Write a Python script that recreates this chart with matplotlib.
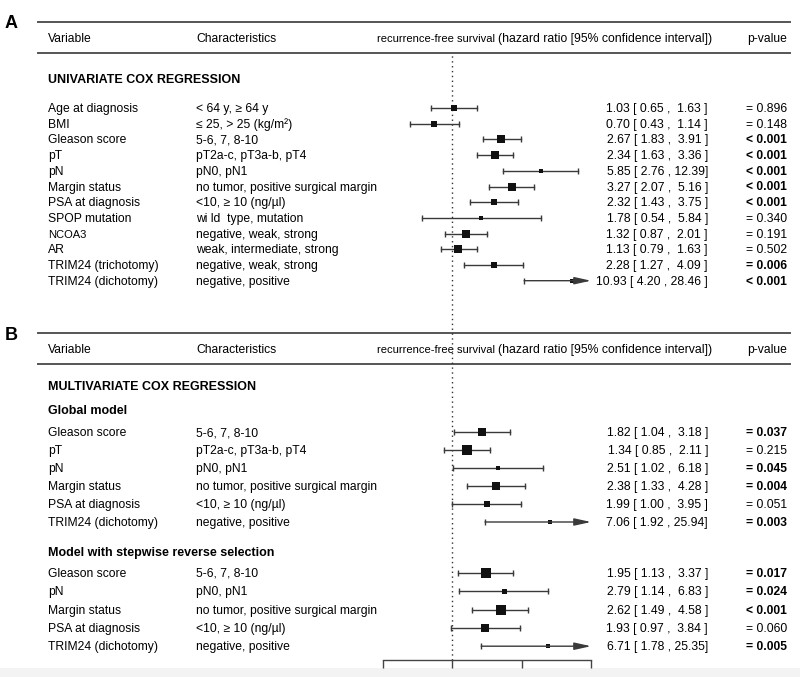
import numpy as np
import matplotlib
matplotlib.use("Agg")
import matplotlib.pyplot as plt

plt.rcParams['font.family'] = ['Liberation Sans', 'DejaVu Sans']

# univariate
uni_var = ["Age at diagnosis", "BMI", "Gleason score", "pT", "pN", "Margin status",
           "PSA at diagnosis", "SPOP mutation", "NCOA3", "AR",
           "TRIM24 (trichotomy)", "TRIM24 (dichotomy)"]
uni_char = ["< 64 y, \u2265 64 y", "\u2264 25, > 25 (kg/m\u00b2)", "5-6, 7, 8-10",
            "pT2a-c, pT3a-b, pT4", "pN0, pN1", "no tumor, positive surgical margin",
            "<10, \u2265 10 (ng/\u00b5l)", "wi ld  type, mutation", "negative, weak, strong",
            "weak, intermediate, strong", "negative, weak, strong", "negative, positive"]
uni_hr = [1.03, 0.70, 2.67, 2.34, 5.85, 3.27, 2.32, 1.78, 1.32, 1.13, 2.28, 10.93]
uni_lo = [0.65, 0.43, 1.83, 1.63, 2.76, 2.07, 1.43, 0.54, 0.87, 0.79, 1.27, 4.20]
uni_hi = [1.63, 1.14, 3.91, 3.36, 12.39, 5.16, 3.75, 5.84, 2.01, 1.63, 4.09, 28.46]
uni_p = ["= 0.896", "= 0.148", "< 0.001", "< 0.001", "< 0.001", "< 0.001",
         "< 0.001", "= 0.340", "= 0.191", "= 0.502", "= 0.006", "< 0.001"]
uni_w = [5.5, 5, 6.5, 6.5, 3.5, 6.5, 5.5, 3, 7, 8, 5.5, 3]

# multivariate, global model
glob_var = ["Gleason score", "pT", "pN", "Margin status", "PSA at diagnosis", "TRIM24 (dichotomy)"]
glob_char = ["5-6, 7, 8-10", "pT2a-c, pT3a-b, pT4", "pN0, pN1",
             "no tumor, positive surgical margin", "<10, \u2265 10 (ng/\u00b5l)", "negative, positive"]
glob_hr = [1.82, 1.34, 2.51, 2.38, 1.99, 7.06]
glob_lo = [1.04, 0.85, 1.02, 1.33, 1.00, 1.92]
glob_hi = [3.18, 2.11, 6.18, 4.28, 3.95, 25.94]
glob_p = ["= 0.037", "= 0.215", "= 0.045", "= 0.004", "= 0.051", "= 0.003"]
glob_w = [7, 9, 4, 7, 5.5, 3]

# multivariate, stepwise reverse selection
step_var = ["Gleason score", "pN", "Margin status", "PSA at diagnosis", "TRIM24 (dichotomy)"]
step_char = ["5-6, 7, 8-10", "pN0, pN1", "no tumor, positive surgical margin",
             "<10, \u2265 10 (ng/\u00b5l)", "negative, positive"]
step_hr = [1.95, 2.79, 2.62, 1.93, 6.71]
step_lo = [1.13, 1.14, 1.49, 0.97, 1.78]
step_hi = [3.37, 6.83, 4.58, 3.84, 25.35]
step_p = ["= 0.017", "= 0.024", "< 0.001", "= 0.060", "= 0.005"]
step_w = [9, 4.5, 9, 6.5, 3]

ticks = [0.25, 1, 4, 16]

W, H = 800, 677
fig = plt.figure(figsize=(8, 6.77), dpi=100)
bg = fig.add_axes([0, 0, 1, 1])
bg.set_xlim(0, W)
bg.set_ylim(H, 0)
bg.axis('off')
bg.axhspan(668, H, color='#f3f3f3', lw=0)

x0, x1, y0, y1 = 383, 591, 55, 660
ax = fig.add_axes([x0 / W, 1 - y1 / H, (x1 - x0) / W, (y1 - y0) / H])
ax.patch.set_alpha(0)
ax.set_xscale('log', base=2)
ax.set_xlim(ticks[0], ticks[-1])
ax.set_ylim(y1, y0)
for s in ['top', 'left', 'right']:
    ax.spines[s].set_visible(False)
ax.spines['bottom'].set_color('#444444')
ax.spines['bottom'].set_linewidth(1.0)
ax.set_xticks(ticks)
ax.set_xticklabels([])
ax.xaxis.set_minor_locator(plt.NullLocator())
ax.tick_params(axis='x', direction='out', length=6, width=1.0, color='#444444')
ax.set_yticks([])
ax.axvline(1, color='#333333', lw=1.0, ls=(0, (1, 2.5)))

fs = 8.7
lc = '#3a3a3a'
dy = 4  # baseline offset below row centre


def txt(x, y, s, **kw):
    kw.setdefault('fontsize', fs)
    bg.text(x, y + dy, s, va='baseline', **kw)


def header(top, label):
    bg.text(11, top + 2, label, fontsize=13, fontweight='bold', ha='center', va='center')
    bg.plot([38, 790], [top, top], color='#555555', lw=1.4)
    bg.plot([38, 790], [top + 31, top + 31], color='#555555', lw=1.4)
    ym = top + 16
    txt(48, ym, "Variable")
    txt(196, ym, "Characteristics")
    txt(495, ym, "recurrence-free survival", fontsize=8.0, ha='right')
    txt(498, ym, "(hazard ratio [95% confidence interval])", fontsize=8.8)
    txt(787, ym, "p-value", ha='right')


def block(ys, var, char, hr, lo, hi, p, w):
    for i, y in enumerate(ys):
        txt(48, y, var[i], fontsize=fs if var[i] != "NCOA3" else 8.0)
        txt(196, y, char[i])
        sep = " , " if hi[i] >= 10 else " ,  "
        end = "]" if (hi[i] >= 10 and hr[i] < 10) else " ]"
        txt(708, y, f"{hr[i]:.2f} [ {lo[i]:.2f}{sep}{hi[i]:.2f}{end}", ha='right')
        bold = p[i].startswith('<') or float(p[i][2:]) < 0.05
        txt(787, y, p[i], ha='right', fontweight='bold' if bold else 'normal')
        if hi[i] > ticks[-1]:
            ax.annotate('', xy=(ticks[-1], y), xytext=(lo[i], y),
                        arrowprops=dict(arrowstyle='-|>,head_length=1.0,head_width=0.22',
                                        color=lc, lw=1.0, shrinkA=0, shrinkB=0,
                                        mutation_scale=10))
            ax.plot([lo[i]], [y], marker='|', ms=5, color=lc, mew=1.0)
        else:
            ax.plot([lo[i], hi[i]], [y, y], color=lc, lw=1.0)
            ax.plot([lo[i], hi[i]], [y, y], ls='none', marker='|', ms=5, color=lc, mew=1.0)
        ax.plot([hr[i]], [y], marker='s', ms=w[i] * 0.8, color='#111111', mew=0)


header(22, "A")
txt(48, 79, "UNIVARIATE COX REGRESSION", fontsize=fs + 0.3, fontweight='bold')
block(108 + 15.7 * np.arange(len(uni_var)), uni_var, uni_char, uni_hr, uni_lo, uni_hi, uni_p, uni_w)

header(333, "B")
txt(48, 386, "MULTIVARIATE COX REGRESSION", fontsize=fs + 0.3, fontweight='bold')
txt(48, 410, "Global model", fontsize=fs + 0.3, fontweight='bold')
block(432 + 18 * np.arange(len(glob_var)), glob_var, glob_char, glob_hr, glob_lo, glob_hi, glob_p, glob_w)
txt(48, 552, "Model with stepwise reverse selection", fontsize=fs + 0.3, fontweight='bold')
block(573 + 18.3 * np.arange(len(step_var)), step_var, step_char, step_hr, step_lo, step_hi, step_p, step_w)

fig.savefig("out.png", dpi=100)
